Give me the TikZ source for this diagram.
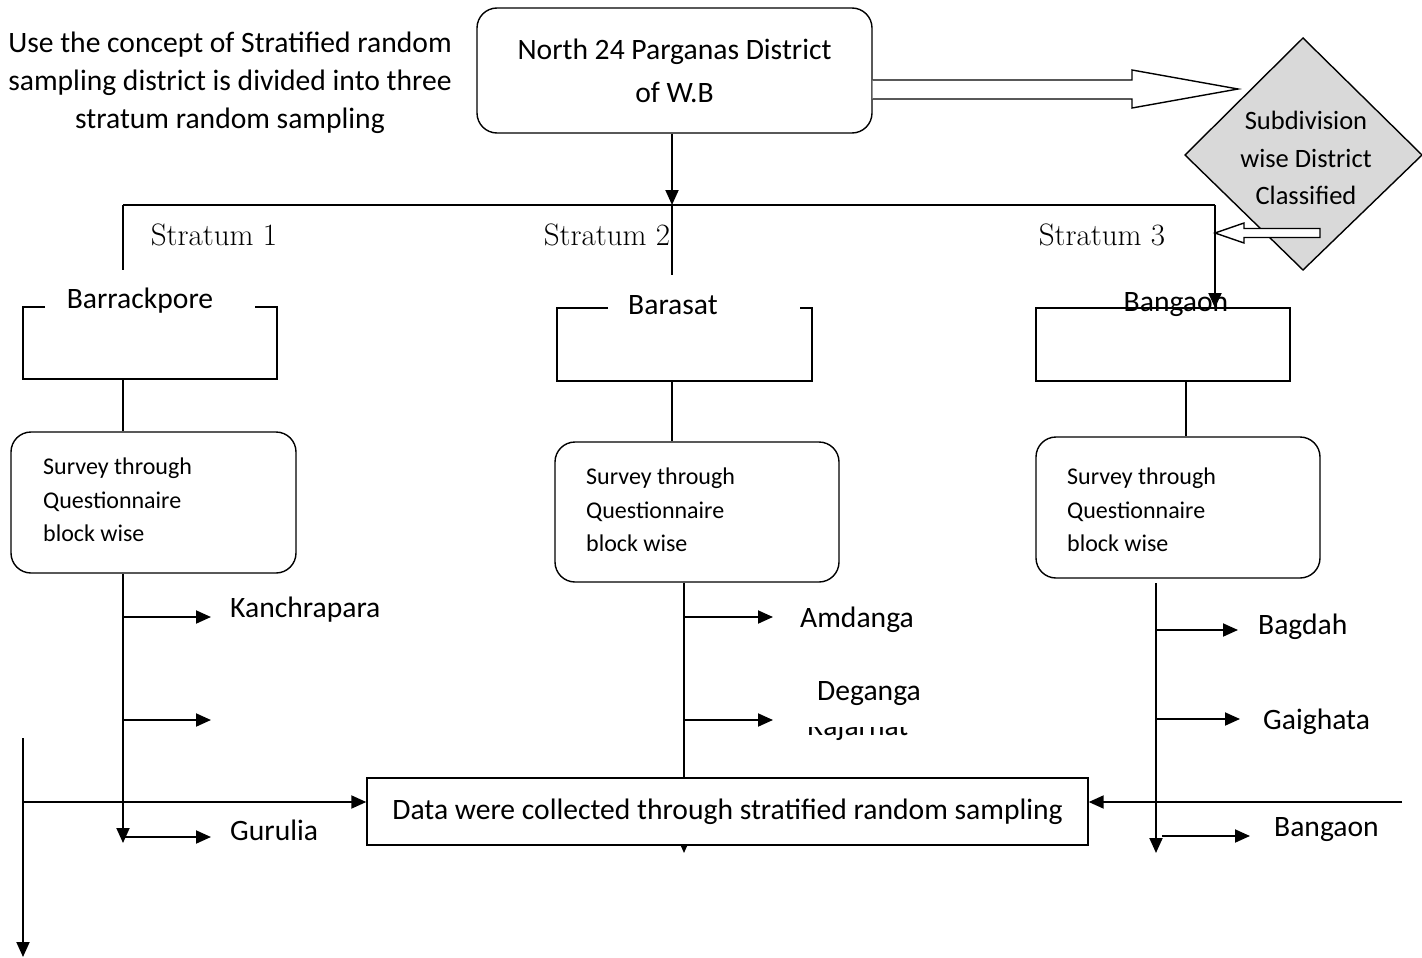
\documentclass[tikz,border=0pt]{standalone}
\usepackage{fontspec}
\newfontfamily\cf{Carlito}
\usetikzlibrary{arrows.meta,calc}
\tikzset{
  ln/.style={line width=1.9pt},
  arr/.style={ln,-{Triangle[length=15pt,width=13pt]}},
  bx/.style={draw,line width=1.4pt},
  rbox/.style={bx,rounded corners=20pt,fill=white,inner sep=0pt},
  lbl/.style={font=\cf\fontsize{29.6}{38}\selectfont,inner sep=0pt},
  sml/.style={font=\cf\fontsize{24}{33.5}\selectfont,inner sep=0pt,align=left},
  strat/.style={font=\fontsize{31}{36}\selectfont,inner sep=0pt},
  hollow/.style={draw,line width=1.4pt,fill=white,line join=miter}
}
\begin{document}
\begin{tikzpicture}[x=1pt,y=-1pt]
\useasboundingbox (0,0) rectangle (1422,958);

% intro text
\node[lbl,align=center] (intro) at (230,83) {Use the concept of Stratified random\\sampling district is divided into three\\stratum random sampling};

% district box
\node[rbox,minimum width=395pt,minimum height=125pt,font=\cf\fontsize{29.6}{43}\selectfont,align=center] (north) at (674.5,70.5) {North 24 Parganas District\\of W.B};

% diamond
\coordinate (dT) at (1303,38);
\coordinate (dR) at (1422,155);
\coordinate (dB) at (1303,270);
\coordinate (dL) at (1185,155);
\draw[line width=1.4pt,fill=black!15] (dT) -- (dR) -- (dB) -- (dL) -- cycle;
\node[font=\cf\fontsize{26.5}{37.5}\selectfont,align=center,inner sep=0pt] (diam) at (1306,158) {Subdivision\\wise District\\Classified};

% big hollow arrow
\draw[hollow] (north.east |- 0,80) -- (1132,80) -- (1132,70) -- (1238,89) -- (1132,108) -- (1132,99) -- (north.east |- 0,99);
% small hollow arrow
\draw[hollow] (1320,228.5) -- (1244,228.5) -- (1244,223) -- (1215,233) -- (1244,243) -- (1244,237.5) -- (1320,237.5) -- cycle;

% stratum bar
\coordinate (barL) at (123,205);
\coordinate (barM) at (672,205);
\coordinate (barR) at (1215,205);
\draw[ln] (barL) -- (barR);
\draw[ln] (barL) -- (123,270);
\draw[arr] (north.south -| barM) -- (barM);
\draw[ln] (barM) -- (672,275);

\node[strat] (st1) at (214,235) {Stratum 1};
\node[strat] (st2) at (607,235) {Stratum 2};
\node[strat] (st3) at (1102,235) {Stratum 3};

% subdivision boxes
\draw[bx] (45,307) -- (23,307) -- (23,379) -- (277,379) -- (277,307) -- (255,307);
\node[lbl] (bkp) at (140,301) {Barrackpore};
\draw[bx] (608,308) -- (557,308) -- (557,381) -- (812,381) -- (812,308) -- (800,308);
\node[lbl] (brs) at (673,305) {Barasat};
\draw[bx] (1036,308) rectangle (1290,381);
\node[lbl] (bng) at (1176,305) {Bangaon};
\draw[arr] (barR) -- (1215,308);

% survey boxes
\node[rbox,minimum width=285pt,minimum height=141pt] (s1) at (153.5,502.5) {};
\node[rbox,minimum width=284pt,minimum height=140pt] (s2) at (697,512) {};
\node[rbox,minimum width=284pt,minimum height=141pt] (s3) at (1178,507.5) {};
\node[sml,anchor=west] (s1t) at (43,500) {Survey through\\Questionnaire\\block wise};
\node[sml,anchor=west] (s2t) at (586,510) {Survey through\\Questionnaire\\block wise};
\node[sml,anchor=west] (s3t) at (1067,510) {Survey through\\Questionnaire\\block wise};

\draw[ln] (123,379) -- (s1.north -| 123,0);
\draw[ln] (672,381) -- (s2.north -| 672,0);
\draw[ln] (1186,381) -- (s3.north -| 1186,0);

% stratum 1 trunk
\draw[arr] (s1.south -| 123,0) -- (123,843);
\draw[arr] (123,617) -- (211,617);
\draw[arr] (123,720) -- (211,720);
\draw[arr] (123,837) -- (211,837);
\node[lbl,anchor=west] (kan) at (230,610) {Kanchrapara};
\node[lbl,anchor=west] (gur) at (230,830) {Gurulia};

% stratum 2 trunk (runs behind data box)
\draw[arr] (s2.south -| 684,0) -- (684,853);
\draw[arr] (684,617) -- (773,617);
\draw[arr] (684,720) -- (773,720);
\node[lbl,anchor=west] (amd) at (800,620) {Amdanga};
\node[lbl,anchor=west] (deg) at (817,694) {Deganga};
\begin{scope}
\clip (800,727) rectangle (930,745);
\node[lbl,anchor=base west] (raj) at (807,735) {Rajarhat};
\end{scope}

% stratum 3 trunk
\draw[arr] (1156,583) -- (1156,853);
\draw[arr] (1156,630) -- (1238,630);
\draw[arr] (1156,719) -- (1240,719);
\draw[arr] (1162,836) -- (1250,836);
\node[lbl,anchor=west] (bag) at (1258,627) {Bagdah};
\node[lbl,anchor=west] (gai) at (1263,722) {Gaighata};
\node[lbl,anchor=west] (bgn) at (1274,830) {Bangaon};

% data box
\node[bx,fill=white,minimum width=721pt,minimum height=67pt,lbl,draw] (data) at (727.5,811.5) {Data were collected through stratified random sampling};

% outer connectors
\coordinate (lt) at (23,738);
\coordinate (lb) at (23,957);
\coordinate (lj) at (23,802);
\coordinate (rj) at (1402,802);
\draw[arr] (lt) -- (lb);
\draw[arr] (lj) -- (data.west |- lj);
\draw[arr] (rj) -- (data.east |- rj);
\end{tikzpicture}
\end{document}
